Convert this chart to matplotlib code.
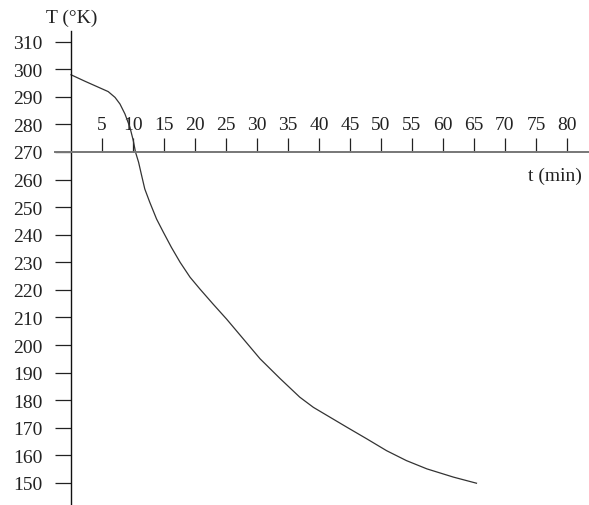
import matplotlib
matplotlib.use("Agg")
import matplotlib.pyplot as plt
import numpy as np

# curve: time (min) vs temperature (K)
t_min = [0.0, 2.3, 4.4, 6.0, 7.1, 7.9, 8.7, 9.5, 10.05, 10.4, 10.9, 11.4,
         11.9, 12.7, 13.8, 14.9, 16.2, 17.6, 19.2, 20.8, 22.9, 25.1, 27.8,
         30.5, 33.7, 35.3, 36.9, 39.1, 41.8, 44.5, 47.7, 50.9, 54.1, 57.4,
         61.7, 65.4]
temp_k = [298.0, 295.6, 293.5, 291.9, 289.8, 287.4, 283.8, 279.0, 274.1,
          270.0, 266.3, 261.4, 256.6, 251.8, 245.7, 240.9, 235.4, 230.0,
          224.6, 220.3, 214.9, 209.4, 202.2, 195.0, 187.9, 184.5, 181.1,
          177.4, 173.8, 170.2, 166.0, 161.7, 158.1, 155.1, 152.1, 149.9]

xticks = list(range(5, 85, 5))
yticks = list(range(150, 320, 10))

plt.rcParams['font.family'] = ['Liberation Serif', 'DejaVu Serif']

fig = plt.figure(figsize=(5.89, 5.06), dpi=100)
W, H = 589, 506
ax = fig.add_axes([55 / W, 0, 534 / W, (H - 32) / H])
ax.set_xlim(-2.58, 83.55)
ax.set_ylim(142.0, 313.87)

ax.plot(t_min, temp_k, color='#333333', lw=0.9, solid_joinstyle='round')

# axes: y axis at t=0, x axis drawn at T=270 with ticks pointing up
ax.spines['right'].set_visible(False)
ax.spines['bottom'].set_visible(False)
ax.spines['left'].set_position(('data', 0))
ax.spines['top'].set_position(('data', 270))
ax.spines['left'].set_color('#111111')
ax.spines['top'].set_color('#777777')
ax.spines['left'].set_linewidth(1.0)
ax.spines['top'].set_linewidth(1.4)

ax.xaxis.set_ticks_position('top')
ax.set_xticks(xticks)
ax.set_xticklabels([str(v) for v in xticks])
ax.tick_params(axis='x', direction='out', length=10, width=0.9, pad=4,
               labelsize=14, colors='#222222')

ax.set_yticks(yticks)
ax.set_yticklabels([str(v) for v in yticks])
ax.tick_params(axis='y', direction='out', length=11.5, width=0.9, pad=9,
               labelsize=14, colors='#222222')

fig.text(72 / W, 1 - 18 / H, "T (°K)", ha='center', va='center', fontsize=14,
         color='#222222')
fig.text(555 / W, 1 - 176 / H, "t (min)", ha='center', va='center', fontsize=14,
         color='#222222')

fig.savefig("out.png", dpi=100)
